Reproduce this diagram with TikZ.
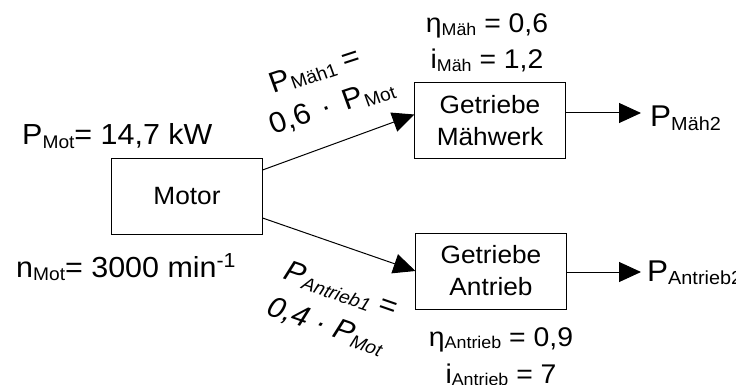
\documentclass[tikz,border=0pt]{standalone}
\usepackage{fontspec}
\setmainfont{Liberation Sans}
\usetikzlibrary{arrows.meta}
\makeatletter
% index text: smaller and slightly lowered
\newcommand{\lsub}[1]{\raisebox{-0.11em}{\fontsize{\fpeval{0.63*\f@size}}{0}\selectfont #1}}
\makeatother
\newcommand{\wdot}{\hspace{0.1em} · \hspace{0.16em}}
\tikzset{
  block/.style={draw, line width=1pt, xscale=1.05, minimum width=142.9pt, minimum height=76pt,
    align=center, inner sep=0pt, font=\fontsize{25}{32}\selectfont},
  flow/.style={line width=1pt, -{Triangle[length=22pt,width=20pt]}},
  lbl/.style={inner sep=0pt, xscale=1.05, font=\fontsize{29}{34}\selectfont},
  gear/.style={lbl, anchor=base, font=\fontsize{27}{32}\selectfont},
  outlbl/.style={lbl, anchor=base west, font=\fontsize{30}{34}\selectfont},
  uplbl/.style={inner sep=0pt, anchor=base, xscale=1.05, rotate=19, font=\fontsize{29}{35}\selectfont},
  downlbl/.style={inner sep=0pt, anchor=base, xscale=1.05, rotate=-20, font=\fontsize{29}{35}\selectfont\itshape},
}
\begin{document}
\begin{tikzpicture}[x=1pt,y=-1pt]
\clip (0,0) rectangle (736,385);

% blocks
\node[block] (motor) at (187,196) {Motor};
\node[block, minimum height=75pt] (gm) at (490,120.5) {Getriebe\\Mähwerk};
\node[block] (ga) at (491,271) {Getriebe\\Antrieb};

% output ends
\coordinate (outm) at (641,113);
\coordinate (outa) at (641,272);

% connectors
\draw[flow] ([yshift=26pt]motor.east) -- ([yshift=6pt]gm.west);
\draw[flow] ([yshift=-22pt]motor.east) -- (ga.west);
\draw[flow] ([yshift=7.5pt]gm.east) -- (outm);
\draw[flow] ([yshift=-1pt]ga.east) -- (outa);

% motor data
\node[lbl, anchor=base west] (pmot) at (22,145) {P\lsub{Mot}= 14,7 kW};
\node[lbl, anchor=base west] (nmot) at (16,277) {n\lsub{Mot}= 3000 min\textsuperscript{-1}};

% gearbox data
\node[gear] (etam) at (487,33) {η\lsub{Mäh} = 0,6};
\node[gear] (im) at (487,69) {i\lsub{Mäh} = 1,2};
\node[gear] (etaa) at (501,346) {η\lsub{Antrieb} = 0,9};
\node[gear] (ia) at (501,383) {i\lsub{Antrieb} = 7};

% power flow labels along the connectors
\node[uplbl] (p1ma) at (318,78.5) {P\lsub{Mäh1} =};
\node[uplbl] (p1mb) at (335,114.5) {0,6\wdot P\lsub{Mot}};
\node[downlbl] (p1aa) at (338,298) {P\lsub{Antrieb1} =};
\node[downlbl] (p1ab) at (323,334) {0,4 · P\lsub{Mot}};

% outputs
\node[outlbl] (p2m) at (650,127) {P\lsub{Mäh2}};
\node[outlbl] (p2a) at (647,281) {P\lsub{Antrieb2}};
\end{tikzpicture}
\end{document}
